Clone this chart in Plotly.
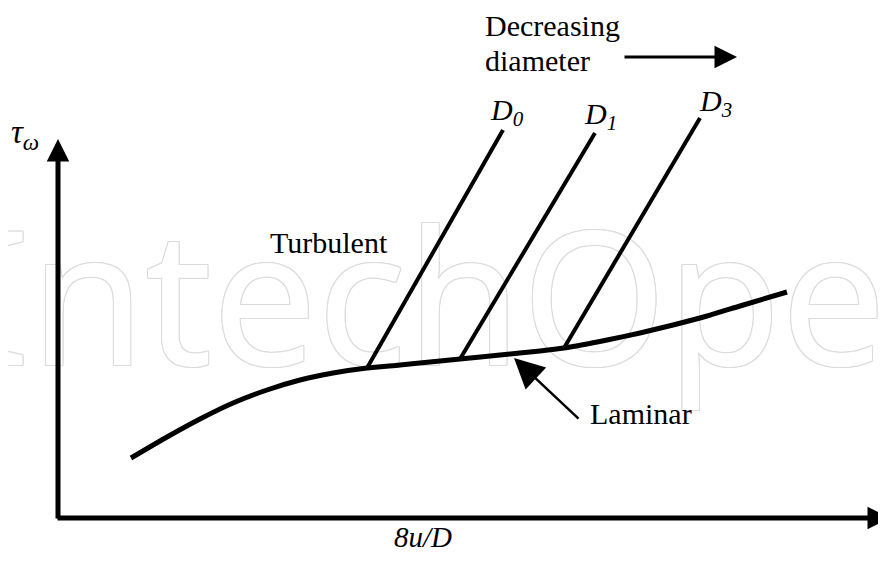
import plotly.graph_objects as go

# Schematic data (diagram units = page pixel coordinates, y grows downward)
curve_x = [131, 167, 200, 233, 267, 300, 333, 367, 400, 440, 460, 500, 540, 564, 607, 640, 673, 707, 740, 787]
curve_y = [458, 437, 419, 403, 390, 380, 373, 368, 365, 361, 359, 355, 351, 348, 340, 333, 325, 316, 306, 292]

branch_names = ["D0", "D1", "D3"]
branch_x0 = [367, 460, 564]
branch_y0 = [368, 359, 348]
branch_x1 = [503, 595, 700]
branch_y1 = [130, 133, 118]

origin = (58, 518)
y_axis_top = 139
x_axis_end = 890

FONT = "Liberation Serif"
PAGE_OFFSET = 8  # default body margin of the html page

fig = go.Figure()

# watermark (faint outlined lettering behind the diagram)
OUTLINE = "#dcdcdc"
fig.add_trace(go.Scatter(x=[484], y=[318], mode="text", text=["IntechOpen"],
                         textposition="middle center",
                         textfont=dict(family="Noto Sans", size=186, color="white",
                                       shadow=", ".join(f"{dx}px {dy}px 0 {OUTLINE}" for dx, dy in
                                                        [(1, 0), (-1, 0), (0, 1), (0, -1), (1, 1), (-1, -1), (1, -1), (-1, 1)])),
                         hoverinfo="skip", showlegend=False, cliponaxis=False))

# Laminar curve
fig.add_trace(go.Scatter(x=curve_x, y=curve_y, mode="lines",
                         line=dict(color="black", width=5, shape="spline", smoothing=0.6),
                         hoverinfo="skip", showlegend=False))

# Turbulent branches
for name, x0, y0, x1, y1 in zip(branch_names, branch_x0, branch_y0, branch_x1, branch_y1):
    fig.add_trace(go.Scatter(x=[x0, x1], y=[y0, y1], mode="lines", name=name,
                             line=dict(color="black", width=4),
                             hoverinfo="skip", showlegend=False))

ann = []
# axes arrows
ann.append(dict(x=origin[0], y=y_axis_top, ax=origin[0], ay=origin[1] + 2,
                xref="x", yref="y", axref="x", ayref="y", showarrow=True, text="",
                arrowhead=2, arrowsize=0.9, arrowwidth=5, arrowcolor="black"))
ann.append(dict(x=x_axis_end, y=origin[1], ax=origin[0] - 2, ay=origin[1],
                xref="x", yref="y", axref="x", ayref="y", showarrow=True, text="",
                arrowhead=2, arrowsize=0.9, arrowwidth=5, arrowcolor="black"))
# decreasing-diameter arrow
ann.append(dict(x=737, y=57, ax=623, ay=57,
                xref="x", yref="y", axref="x", ayref="y", showarrow=True, text="",
                arrowhead=2, arrowsize=1.5, arrowwidth=3, arrowcolor="black"))
# laminar pointer arrow
ann.append(dict(x=514, y=358, ax=580, ay=420,
                xref="x", yref="y", axref="x", ayref="y", showarrow=True, text="",
                arrowhead=2, arrowsize=2.4, arrowwidth=2.5, arrowcolor="black"))

def label(x, y, text, size=30):
    ann.append(dict(x=x, y=y, xref="x", yref="y", text=text, showarrow=False,
                    xanchor="left", yanchor="middle",
                    font=dict(family=FONT, size=size, color="black")))

label(483, 25, "Decreasing")
label(483, 60, "diameter")
label(268, 242, "Turbulent")
label(588, 413, "Laminar")
label(488, 112, "<i>D</i><sub><i>0</i></sub>")
label(582, 116, "<i>D</i><sub><i>1</i></sub>")
label(697, 103, "<i>D</i><sub><i>3</i></sub>")
label(9, 134, "<i>τ</i><sub><i>ω</i></sub>", size=33)
label(392, 537, "<i>8u/D</i>", size=29)

fig.update_layout(
    width=886 - PAGE_OFFSET, height=561 - PAGE_OFFSET,
    margin=dict(l=0, r=0, t=0, b=0),
    paper_bgcolor="white", plot_bgcolor="white",
    xaxis=dict(range=[PAGE_OFFSET, 886], visible=False, fixedrange=True),
    yaxis=dict(range=[561, PAGE_OFFSET], visible=False, fixedrange=True),
    annotations=ann,
    showlegend=False,
)

fig.write_html("out.html")
